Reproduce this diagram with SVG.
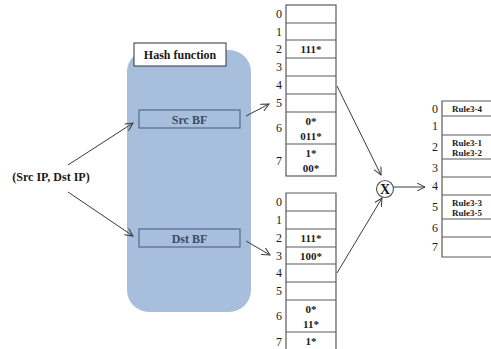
<svg xmlns="http://www.w3.org/2000/svg" width="491" height="349" viewBox="0 0 491 349">
<defs>
<style>
text{font-family:'Liberation Serif','Times New Roman','DejaVu Serif',serif;fill:#1a1a1a}
.b{font-weight:bold}
.idx{font-size:12px;text-anchor:end}
.cell{font-size:11px;font-weight:bold;text-anchor:middle}
.rule{font-size:9px;font-weight:bold}
.tab{fill:#fff;stroke:#5a5a5a;stroke-width:1.2}
.ln{stroke:#5a5a5a;stroke-width:1.2}
.conn{stroke:#3a3a3a;stroke-width:1;fill:none}
.bf{fill:#a7bfdd;stroke:#55698a;stroke-width:1.2}
.bft{font-size:12px;font-weight:bold;fill:#3d4a66;text-anchor:middle}
</style>
<marker id="arr" markerWidth="10" markerHeight="8" refX="8" refY="4" orient="auto" markerUnits="userSpaceOnUse">
<path d="M0,0 L8,4 L0,8" fill="none" stroke="#3a3a3a" stroke-width="1"/>
</marker>
</defs>

<g id="hash-block">
<rect x="127" y="50" width="124" height="262" rx="22" ry="22" fill="#a7bfdd"/>
</g>
<g id="hash-label">
<rect x="134" y="43" width="92" height="23" fill="#fff" stroke="#333" stroke-width="1"/>
<text class="b" x="180" y="59" font-size="12" text-anchor="middle">Hash function</text>
</g>
<g id="src-bf">
<rect class="bf" x="139" y="110" width="101" height="18"/>
<text class="bft" x="189.5" y="123.5">Src BF</text>
</g>
<g id="dst-bf">
<rect class="bf" x="139" y="229" width="101" height="18"/>
<text class="bft" x="189.5" y="242.5">Dst BF</text>
</g>
<g id="input">
<text class="b" x="51" y="181" font-size="12" text-anchor="middle">(Src IP, Dst IP)</text>
</g>

<g id="table-src">
<rect class="tab" x="286" y="5" width="50" height="171"/>
<path class="ln" d="M286,23H336M286,40H336M286,58H336M286,76H336M286,94H336M286,112H336M286,144H336"/>
<g class="idx">
<text x="282" y="18">0</text><text x="282" y="36">1</text><text x="282" y="53">2</text><text x="282" y="71">3</text>
<text x="282" y="89">4</text><text x="282" y="107">5</text><text x="282" y="132">6</text><text x="282" y="165">7</text>
</g>
<g class="cell">
<text x="311" y="53">111*</text>
<text x="311" y="125">0*</text><text x="311" y="140">011*</text>
<text x="311" y="157">1*</text><text x="311" y="172">00*</text>
</g>
</g>

<g id="table-dst">
<path class="tab" d="M286,360V193H336V360"/>
<path class="ln" d="M286,211H336M286,229H336M286,247H336M286,264H336M286,282H336M286,300H336M286,332H336"/>
<g class="idx">
<text x="282" y="206">0</text><text x="282" y="224">1</text><text x="282" y="242">2</text><text x="282" y="260">3</text>
<text x="282" y="277">4</text><text x="282" y="295">5</text><text x="282" y="320">6</text><text x="282" y="346">7</text>
</g>
<g class="cell">
<text x="311" y="242">111*</text><text x="311" y="260">100*</text>
<text x="311" y="313">0*</text><text x="311" y="328">11*</text>
<text x="311" y="345">1*</text>
</g>
</g>

<g id="and-op">
<circle cx="385" cy="189" r="8.5" fill="#fff" stroke="#5a5a5a" stroke-width="1.2"/>
<text class="b" x="385" y="194" font-size="14" text-anchor="middle">X</text>
</g>

<g id="table-rules">
<path class="tab" d="M500,101H442V257H500"/>
<path class="ln" d="M442,116H500M442,135H500M442,159H500M442,177H500M442,195H500M442,219H500M442,237H500"/>
<g class="idx">
<text x="438" y="113">0</text><text x="438" y="130">1</text><text x="438" y="151">2</text><text x="438" y="172">3</text>
<text x="438" y="190">4</text><text x="438" y="211">5</text><text x="438" y="232">6</text><text x="438" y="251">7</text>
</g>
<g class="rule">
<text x="452" y="112">Rule3-4</text>
<text x="452" y="146">Rule3-1</text><text x="452" y="156">Rule3-2</text>
<text x="452" y="206">Rule3-3</text><text x="452" y="216">Rule3-5</text>
</g>
</g>

<g id="connectors">
<line class="conn" x1="68" y1="165" x2="133" y2="123" marker-end="url(#arr)"/>
<line class="conn" x1="68" y1="192" x2="133" y2="236" marker-end="url(#arr)"/>
<line class="conn" x1="246" y1="116" x2="269" y2="104" marker-end="url(#arr)"/>
<line class="conn" x1="246" y1="241" x2="270" y2="255" marker-end="url(#arr)"/>
<line class="conn" x1="337" y1="86" x2="381" y2="175" marker-end="url(#arr)"/>
<line class="conn" x1="337" y1="273" x2="382" y2="198" marker-end="url(#arr)"/>
<line class="conn" x1="393" y1="187" x2="425" y2="187" marker-end="url(#arr)"/>
</g>
</svg>
